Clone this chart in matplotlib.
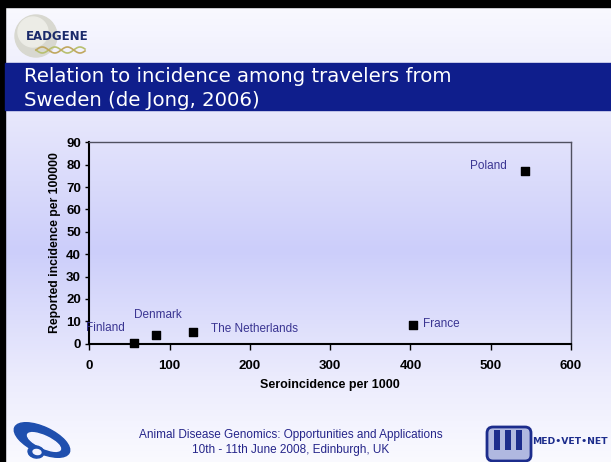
import numpy as np
import matplotlib
matplotlib.use("Agg")
import matplotlib.pyplot as plt
from matplotlib.patches import Rectangle, Ellipse, FancyBboxPatch, Circle

countries = ["Finland", "Denmark", "The Netherlands", "France", "Poland"]
seroincidence = [56, 83, 129, 403, 543]
reported = [0.3, 4.0, 5.3, 8.3, 77.3]
xticks = [0, 100, 200, 300, 400, 500, 600]
yticks = [0, 10, 20, 30, 40, 50, 60, 70, 80, 90]

W, H = 611, 462
fig = plt.figure(figsize=(W / 100, H / 100), dpi=100)

# background gradient
bg = fig.add_axes([0, 0, 1, 1])
bg.set_xlim(0, W)
bg.set_ylim(H, 0)
bg.axis("off")
ys = np.array([0, 110, 250, 380, 462])
cols = np.array([[250, 250, 255], [232, 232, 252], [204, 206, 250], [236, 236, 253], [250, 250, 255]]) / 255
yy = np.arange(H)
grad = np.stack([np.interp(yy, ys, cols[:, i]) for i in range(3)], axis=-1)
grad = np.repeat(grad[:, None, :], 2, axis=1)
bg.imshow(grad, extent=[0, W, H, 0], aspect="auto", zorder=0)
# black frame edges
bg.add_patch(Rectangle((0, 0), W, 7, color="black", zorder=1))
bg.add_patch(Rectangle((0, 0), 4.5, H, color="black", zorder=1))
# title band
bg.add_patch(Rectangle((4.5, 63), W, 47, color="#0F1E8C", zorder=1))
bg.text(24, 77, "Relation to incidence among travelers from", color="white",
        fontsize=14.2, family="DejaVu Sans", va="center", ha="left", zorder=2)
bg.text(24, 100, "Sweden (de Jong, 2006)", color="white",
        fontsize=14.2, family="DejaVu Sans", va="center", ha="left", zorder=2)

# EADGENE logo
bg.add_patch(Circle((36, 36), 21, color="#d8d8d0", zorder=1))
bg.add_patch(Circle((33, 32), 15, color="#ecece6", zorder=1))
bg.text(26, 36, "EADGENE", color="#1a2a6a", fontsize=8.5, fontweight="bold",
        family="DejaVu Sans Condensed", va="center", ha="left", zorder=2)
hx = np.linspace(36, 85, 80)
bg.plot(hx, 50 + 3 * np.sin((hx - 36) / 4), color="#b8c070", lw=1.2, zorder=2)
bg.plot(hx, 50 - 3 * np.sin((hx - 36) / 4), color="#c0a860", lw=1.2, zorder=2)

# bottom-left swoosh logo
bg.add_patch(Ellipse((42, 440), 60, 26, angle=25, color="#1f4fae", zorder=1))
bg.add_patch(Ellipse((44, 442), 36, 12, angle=25, color="#f4f4ff", zorder=2))
bg.add_patch(Ellipse((36, 452), 16, 12, angle=10, color="#1f4fae", zorder=3))
bg.add_patch(Ellipse((37, 452), 8, 5, angle=10, color="#f4f4ff", zorder=4))

# MED-VET-NET logo
bg.add_patch(FancyBboxPatch((487, 427), 44, 34, boxstyle="round,pad=0,rounding_size=6",
                            fc="#b0b8e0", ec="#1c2c8c", lw=2, zorder=1))
for cx in (497, 508, 519):
    bg.add_patch(Rectangle((cx - 3, 430), 6, 20, fc="#1c2c8c", ec="none", zorder=2))
bg.text(532, 441, "MED\u2022VET\u2022NET", color="#1c2c8c", fontsize=6.7, fontweight="bold",
        family="DejaVu Sans Condensed", va="center", ha="left", zorder=2)

# footer
bg.text(291, 435, "Animal Disease Genomics: Opportunities and Applications", color="#25258a",
        fontsize=8.5, family="Liberation Sans", ha="center", va="center")
bg.text(291, 450, "10th - 11th June 2008, Edinburgh, UK", color="#25258a",
        fontsize=8.5, family="Liberation Sans", ha="center", va="center")

# chart
ax = fig.add_axes([89.3 / W, 1 - 343.7 / H, (571 - 89.3) / W, (343.7 - 142.3) / H])
ax.set_facecolor("none")
ax.scatter(seroincidence, reported, marker="s", s=40, color="black", zorder=3, clip_on=False)
ax.set_xlim(0, 600)
ax.set_ylim(0, 90)
ax.set_xticks(xticks)
ax.set_yticks(yticks)
for lab in ax.get_xticklabels() + ax.get_yticklabels():
    lab.set_fontweight("bold")
    lab.set_family("Liberation Sans")
    lab.set_fontsize(9.5)
ax.tick_params(axis="x", direction="out", length=4, width=1, color="black", pad=8)
ax.tick_params(axis="y", direction="out", length=3, width=1, color="black", pad=3)
ax.set_xlabel("Seroincidence per 1000", fontsize=9, fontweight="bold", family="Liberation Sans", labelpad=5)
ax.set_ylabel("Reported incidence per 100000", fontsize=8.8, fontweight="bold", family="Liberation Sans", labelpad=4)
for s in ("left", "bottom"):
    ax.spines[s].set_color("black")
    ax.spines[s].set_linewidth(1.5)
for s in ("top", "right"):
    ax.spines[s].set_color("#505060")
    ax.spines[s].set_linewidth(1.0)

lab_col = "#3a3592"
offsets = {
    "Finland": (-7.2, 10.6, "right", "center"),
    "Denmark": (1.2, 14.4, "center", "center"),
    "The Netherlands": (13.2, 2.2, "left", "center"),
    "France": (7.2, 1.0, "left", "center"),
    "Poland": (-13, 3.4, "right", "center"),
}
for name, xv, yv in zip(countries, seroincidence, reported):
    dx, dy, ha, va = offsets[name]
    ax.annotate(name, (xv, yv), xytext=(dx, dy), textcoords="offset points",
                ha=ha, va=va, color=lab_col, fontsize=8.5, family="Liberation Sans")

fig.savefig("out.png", dpi=100)
